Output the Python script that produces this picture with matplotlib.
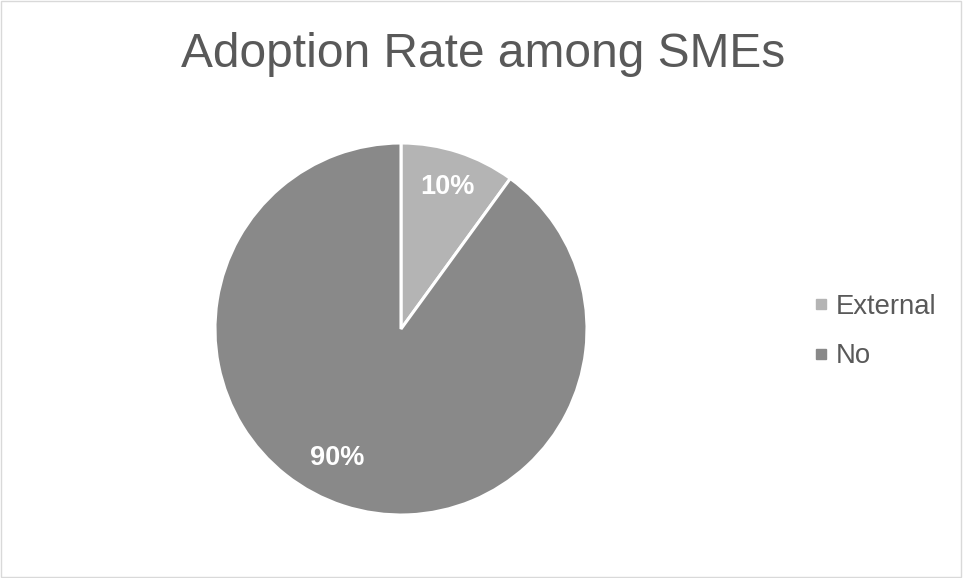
import matplotlib.pyplot as plt
from matplotlib.lines import Line2D
from matplotlib.patches import Rectangle

plt.rcParams["font.family"] = ["Liberation Sans", "DejaVu Sans"]

labels = ["External", "No"]
shares = [10, 90]
colors = ["#b4b4b4", "#898989"]

fig = plt.figure(figsize=(9.63, 5.78), dpi=100)
fig.patch.set_facecolor("white")

# thin chart border
fig.add_artist(Rectangle((0.001, 0.002), 0.997, 0.996, transform=fig.transFigure,
                         fill=False, edgecolor="#d9d9d9", linewidth=1))

ax = fig.add_axes([0.4164 - 0.3863 / 2, 0.4308 - 0.6436 / 2, 0.3863, 0.6436])
wedges, texts, autotexts = ax.pie(
    shares, colors=colors, startangle=90, counterclock=False,
    autopct="%d%%", pctdistance=0.8,
    wedgeprops=dict(edgecolor="white", linewidth=2.2),
    textprops=dict(color="white", fontsize=19.5, fontweight="bold"),
)
# nudge the big slice's label a little further round, like the office default
x, y = autotexts[1].get_position()
autotexts[1].set_position((x - 0.095, y + 0.065))
ax.set_xlim(-1, 1)
ax.set_ylim(-1, 1)
ax.set_aspect("equal")

fig.text(0.502, 0.905, "Adoption Rate among SMEs", ha="center", va="center",
         fontsize=34.5, color="#595959")

handles = [Line2D([], [], marker="s", linestyle="none", markersize=6.5,
                  markerfacecolor=c, markeredgecolor=c) for c in colors]
fig.legend(handles, labels, loc="center left", bbox_to_anchor=(0.834, 0.426),
           frameon=False, fontsize=19.8, labelcolor="#595959",
           handlelength=0.5, handletextpad=0.3, labelspacing=0.85,
           borderaxespad=0)

plt.savefig("out.png", dpi=100)
